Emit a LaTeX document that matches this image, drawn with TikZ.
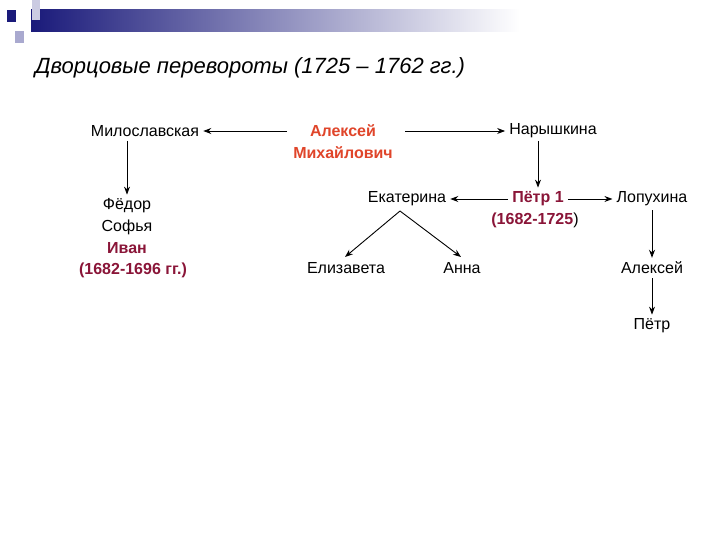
\documentclass[tikz,border=0pt]{standalone}
\usepackage{fontspec}
\setmainfont{Liberation Sans}
\usetikzlibrary{arrows.meta}
\definecolor{blk}{HTML}{1A1A7A}
\definecolor{lbl}{HTML}{A9A9CF}
\definecolor{redA}{HTML}{E0452A}
\definecolor{dred}{HTML}{8A1538}
\begin{document}
\begin{tikzpicture}[x=1pt,y=-1pt,
  t/.style={font=\fontsize{16}{19}\selectfont, inner sep=4pt, align=center},
  dr/.style={t, text=dred, font=\fontsize{16}{19}\selectfont\bfseries},
  ar/.style={-{Stealth[length=8pt,width=6pt]}, line width=0.9pt}]
\useasboundingbox (0,0) rectangle (720,540);
\fill[white] (0,0) rectangle (720,540);
% decoration
\shade[left color=blk, right color=white] (31,10) rectangle (520,32);
\fill[lbl!60] (32,0) rectangle (40,20);
\fill[lbl] (15,31) rectangle (24,43);
\fill[blk] (7,10) rectangle (16,22);
% title
\node[anchor=west, font=\fontsize{22}{26}\selectfont\itshape, inner sep=0] (title) at (35,68) {Дворцовые перевороты (1725 – 1762 гг.)};
% nodes
\node[t] (mil) at (145,131) {Милославская};
\node[t, text=redA, font=\fontsize{16}{22}\selectfont\bfseries] (alm) at (343,142) {Алексей\\Михайлович};
\node[t] (nar) at (553,131) {Нарышкина};
\node[t] (fd) at (127,206) {Фёдор};
\node[t] (sf) at (127,227) {Софья};
\node[dr] (iv) at (127,248) {Иван};
\node[dr] (ivd) at (133,270) {(1682-1696 гг.)};
\node[dr] (p1) at (538,199) {Пётр 1};
\node[t] (p1d) at (535,220) {\textcolor{dred}{\bfseries(1682-1725}\textcolor{black}{)}};
\node[t] (ek) at (407,199) {Екатерина};
\node[t] (lop) at (652,199) {Лопухина};
\node[t] (el) at (346,268) {Елизавета};
\node[t] (an) at (462,268) {Анна};
\node[t] (al) at (652,268) {Алексей};
\node[t] (pt) at (652,326) {Пётр};
\coordinate (ap) at (400,211);
% connectors
\draw[ar] (287,131) -- (mil.east);
\draw[ar] (405,131) -- (nar.west);
\draw[ar] (127,141) -- (fd.north);
\draw[ar] (538,141) -- (p1.north);
\draw[ar] (p1.west) -- (ek.east);
\draw[ar] (p1.east) -- (lop.west);
\draw[ar] (ap) -- (345,257);
\draw[ar] (ap) -- (461,257);
\draw[ar] (lop.south) -- (al.north);
\draw[ar] (al.south) -- (pt.north);
\end{tikzpicture}
\end{document}
